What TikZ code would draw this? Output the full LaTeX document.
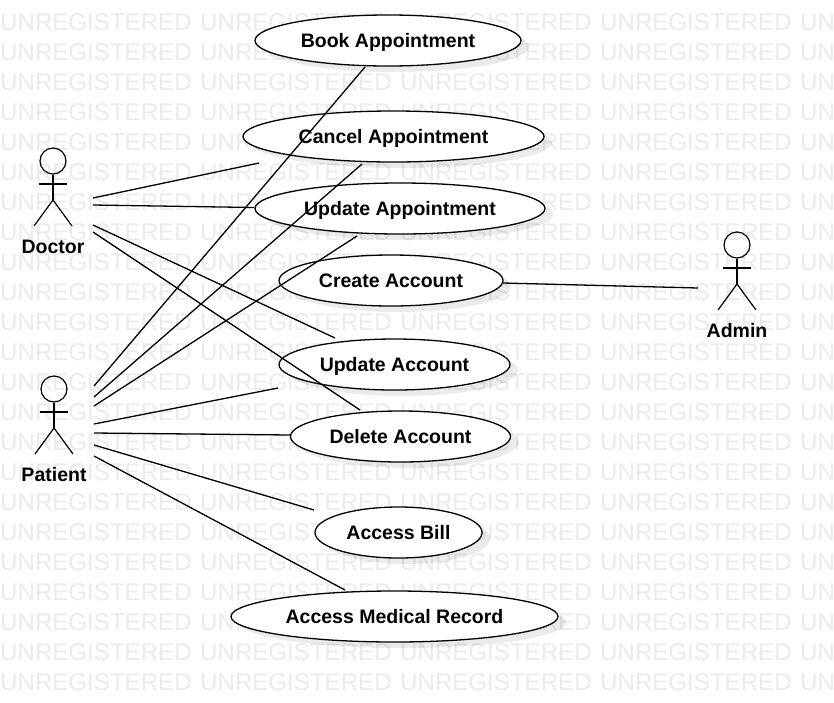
\documentclass[tikz,border=0pt]{standalone}
\usepackage{fontspec}
\setmainfont{Liberation Sans}
\usetikzlibrary{shapes.geometric}
\definecolor{wm}{HTML}{EBEBEB}
\tikzset{
  usecase/.style={ellipse,draw=black,line width=1.3pt,fill=white,inner sep=0pt,font=\fontsize{19.5}{22}\bfseries\selectfont,text=black,text height=16pt,text depth=2pt},
  usecaseshadow/.style={ellipse,fill=black,fill opacity=0.08,inner sep=0pt},
  actorlabel/.style={font=\fontsize{19.5}{22}\bfseries\selectfont,text=black,inner sep=0pt,text height=15pt,text depth=3pt},
  assoc/.style={line width=1.3pt,draw=black},
  stick/.style={line width=1.2pt,draw=black},
  wmtext/.style={anchor=base west,inner sep=0pt,text=wm,font=\fontsize{24.1}{26}\selectfont},
}
\newcommand{\ucase}[6]{% name, cx, cy, w, h, text
  \node[usecaseshadow,minimum width=#4pt,minimum height=#5pt] at (#2+8,#3+6) {};
  \node[usecase,minimum width=#4pt,minimum height=#5pt] (#1) at (#2,#3) {#6};
}
\newcommand{\actor}[4]{% name, head x, head y, label
  \node[circle,stick,minimum size=26pt,inner sep=0pt] (#1head) at (#2,#3) {};
  \coordinate (#1hip) at (#2,#3+39);
  \coordinate (#1armL) at (#2-14,#3+23);
  \coordinate (#1armR) at (#2+14,#3+23);
  \coordinate (#1footL) at (#2-19,#3+65);
  \coordinate (#1footR) at (#2+19,#3+65);
  \draw[stick] (#1head.south) -- (#1hip);
  \draw[stick] (#1armL) -- (#1armR);
  \draw[stick] (#1footL) -- (#1hip) -- (#1footR);
  \node[actorlabel] (#1label) at (#2,#3+86) {#4};
}
\begin{document}
\begin{tikzpicture}[x=1pt,y=-1pt]
\useasboundingbox (0,0) rectangle (834,702);
\clip (0,0) rectangle (834,702);
\fill[white] (0,0) rectangle (834,702);
\foreach \r in {30,60,...,690}
  \foreach \c in {0,200,400,600,800}
    \node[wmtext] at (\c,\r) {UNREGISTERED};

\ucase{book}{388}{40.5}{266}{51}{Book Appointment}
\ucase{cancel}{393.5}{136.5}{301}{51}{Cancel Appointment}
\ucase{updappt}{400}{208.5}{290}{51}{Update Appointment}
\ucase{create}{391}{280.5}{224}{51}{Create Account}
\ucase{updacct}{394.5}{364.5}{231}{51}{Update Account}
\ucase{delete}{400.5}{436.5}{220}{51}{Delete Account}
\ucase{bill}{398.5}{532.5}{167}{51}{Access Bill}
\ucase{record}{394.5}{616.5}{327}{51}{Access Medical Record}

\actor{doctor}{53}{161}{Doctor}
\actor{patient}{54}{389}{Patient}
\actor{admin}{737}{245}{Admin}

\coordinate (d1) at (93,198); \coordinate (c1) at (259,163);
\coordinate (d2) at (93,205); \coordinate (u1) at (254,207.5);
\coordinate (d3) at (93,225); \coordinate (ua1) at (335,338);
\coordinate (d4) at (93,232); \coordinate (de1) at (360,410);
\coordinate (p1) at (94,386); \coordinate (b2) at (365,67);
\coordinate (p2) at (94,397); \coordinate (c2) at (362,164);
\coordinate (p3) at (94,406); \coordinate (u2) at (357,236);
\coordinate (p4) at (94,424); \coordinate (ua2) at (278,388);
\coordinate (p5) at (94,433); \coordinate (de2) at (290,435);
\coordinate (p6) at (94,445); \coordinate (bi2) at (314,510);
\coordinate (p7) at (94,456); \coordinate (r2) at (345,590);
\coordinate (a1) at (698,288); \coordinate (cr1) at (503,283);

\draw[assoc] (d1) -- (c1);
\draw[assoc] (d2) -- (u1);
\draw[assoc] (d3) -- (ua1);
\draw[assoc] (d4) -- (de1);
\draw[assoc] (p1) -- (b2);
\draw[assoc] (p2) -- (c2);
\draw[assoc] (p3) -- (u2);
\draw[assoc] (p4) -- (ua2);
\draw[assoc] (p5) -- (de2);
\draw[assoc] (p6) -- (bi2);
\draw[assoc] (p7) -- (r2);
\draw[assoc] (cr1) -- (a1);
\end{tikzpicture}
\end{document}
